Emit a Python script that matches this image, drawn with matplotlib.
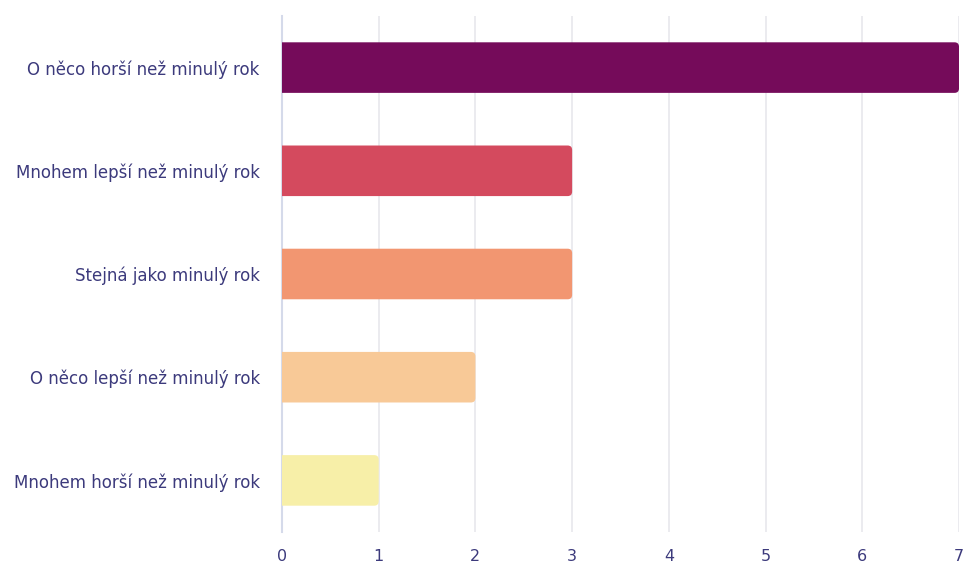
import matplotlib
matplotlib.use("Agg")
import matplotlib.pyplot as plt
from matplotlib.patches import FancyBboxPatch

categories = [
    "O něco horší než minulý rok",
    "Mnohem lepší než minulý rok",
    "Stejná jako minulý rok",
    "O něco lepší než minulý rok",
    "Mnohem horší než minulý rok",
]
values = [7, 3, 3, 2, 1]
colors = ["#750B5A", "#D44A5E", "#F29671", "#F8C997", "#F7EFA8"]
xticks = [0, 1, 2, 3, 4, 5, 6, 7]

text_color = "#3C3A7C"
plt.rcParams["font.family"] = ["DejaVu Sans"]

fig = plt.figure(figsize=(9.65, 5.65), dpi=100)
ax = fig.add_axes([0.2922, 0.0584, 0.7016, 0.9133])

n = len(categories)
ax.set_xlim(0, 7)
ax.set_ylim(n - 0.5, -0.5)

bar_h = 0.49
# pixels per data unit, used to keep the corner rounding circular
px_x = 0.7016 * 965 / 7
px_y = 0.9133 * 565 / n
r_px = 4.5
rx = r_px / px_x
aspect = (r_px / px_y) / rx
lead = 4 * rx  # rounded left end sits left of zero and is clipped away

for i, (v, c) in enumerate(zip(values, colors)):
    y0 = i - bar_h / 2
    box = FancyBboxPatch((-lead, y0), v + lead, bar_h,
                         boxstyle=f"round,pad=0,rounding_size={rx}",
                         mutation_aspect=aspect, fc=c, ec="none", zorder=3)
    ax.add_patch(box)

ax.set_yticks(range(n))
ax.set_yticklabels(categories, fontsize=12, color=text_color)
ax.set_xticks(xticks)
ax.set_xticklabels([str(t) for t in xticks], fontsize=11.5, color=text_color)
ax.tick_params(axis="y", length=0, pad=16)
ax.tick_params(axis="x", length=0, pad=12)

ax.grid(axis="x", color="#E8E8EC", linewidth=1.2, zorder=0)
ax.set_axisbelow(True)
for s in ["top", "right", "bottom"]:
    ax.spines[s].set_visible(False)
ax.spines["left"].set_color("#D5DAEA")
ax.spines["left"].set_linewidth(1.5)
ax.spines["left"].set_zorder(1)

fig.savefig("out.png", dpi=100, facecolor="white")
